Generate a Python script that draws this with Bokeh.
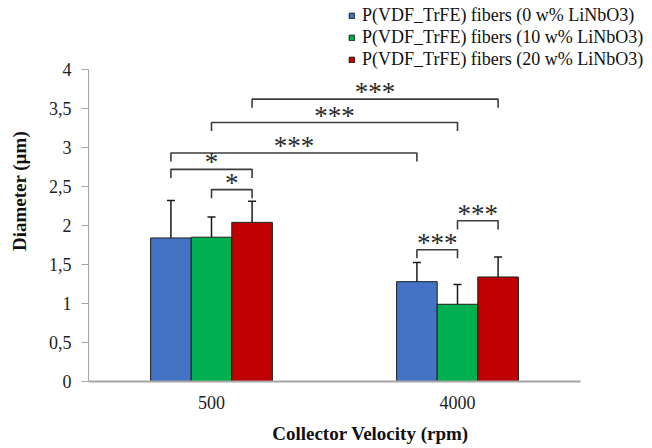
from bokeh.plotting import figure
from bokeh.models import (ColumnDataSource, Range1d, FixedTicker, Legend, LegendItem,
                          Whisker, TeeHead)
from bokeh.embed import file_html
from bokeh.resources import INLINE
from bokeh.core.properties import value

# ---------------- data ----------------
velocities = ["500", "4000"]
series_names = ["P(VDF_TrFE) fibers (0 w% LiNbO3)",
                "P(VDF_TrFE) fibers (10 w% LiNbO3)",
                "P(VDF_TrFE) fibers (20 w% LiNbO3)"]
diam_0 = [1.84, 1.28]
diam_10 = [1.85, 0.99]
diam_20 = [2.04, 1.34]
err_0 = [0.48, 0.245]
err_10 = [0.26, 0.255]
err_20 = [0.27, 0.255]

y_ticks = [0, 0.5, 1, 1.5, 2, 2.5, 3, 3.5, 4]
y_tick_labels = ["0", "0,5", "1", "1,5", "2", "2,5", "3", "3,5", "4"]

# significance brackets (group index / series index of each end)
br_left_group = [0, 0, 0, 0, 0, 1, 1]
br_left_series = [2, 1, 0, 0, 1, 0, 1]
br_right_group = [1, 1, 1, 0, 0, 1, 1]
br_right_series = [2, 1, 0, 2, 2, 1, 2]
br_level = [3.62, 3.32, 2.93, 2.72, 2.46, 1.69, 2.06]
br_label = ["***", "***", "***", "*", "*", "***", "***"]

# ---------------- style ----------------
colors = ["#4472C4", "#00B050", "#C00000"]
SERIF = "Liberation Serif"
BAR_W = 0.165
offsets = [-BAR_W, 0.0, BAR_W]
DROP = 0.11

W, H = 652, 448
LEFT, BOTTOM = 88, 67
PX_PER_UNIT = 78.0
PX_PER_CAT = 246.0
frame_h = H - BOTTOM
frame_w = W - LEFT
y_end = frame_h / PX_PER_UNIT
x_end = frame_w / PX_PER_CAT

p = figure(width=W, height=H, output_backend="svg", toolbar_location=None,
           x_range=Range1d(0, x_end), y_range=Range1d(0, y_end),
           min_border_left=LEFT, min_border_right=0, min_border_top=0,
           min_border_bottom=BOTTOM)
p.outline_line_color = None
p.xgrid.visible = False
p.ygrid.visible = False
p.background_fill_color = "white"

values = [diam_0, diam_10, diam_20]
errors = [err_0, err_10, err_20]
renderers = []
for si in range(3):
    xs = [gi + 0.5 + offsets[si] for gi in range(len(velocities))]
    src = ColumnDataSource(dict(
        x=xs, top=values[si],
        upper=[v + e for v, e in zip(values[si], errors[si])],
        lower=[v - e for v, e in zip(values[si], errors[si])]))
    r = p.vbar(x="x", top="top", width=BAR_W, bottom=0, source=src,
               fill_color=colors[si], line_color="#1e1e1e", line_width=1)
    renderers.append(r)
    wk = Whisker(base="x", upper="upper", lower="lower", source=src,
                 dimension="height", line_color="#1a1a1a", line_width=1.5,
                 upper_head=TeeHead(size=8, line_color="#1a1a1a", line_width=1.5),
                 lower_head=TeeHead(size=8, line_color="#1a1a1a", line_width=1.5))
    p.add_layout(wk)

# brackets
bx, by, tx, ty = [], [], [], []
for lg, ls, rg, rs, lv in zip(br_left_group, br_left_series, br_right_group,
                              br_right_series, br_level):
    x0 = lg + 0.5 + offsets[ls]
    x1 = rg + 0.5 + offsets[rs]
    bx.append([x0, x0, x1, x1])
    by.append([lv - DROP, lv, lv, lv - DROP])
    tx.append((x0 + x1) / 2)
    ty.append(lv)
p.multi_line(xs=bx, ys=by, line_color="#3c3c3c", line_width=1.6)
p.text(x=tx, y=ty, text=br_label, text_font=value(SERIF), text_font_size="27px",
       text_color="#2a2a2a", text_align="center", text_baseline="alphabetic",
       y_offset=-7)

# axes
xa = p.xaxis[0]
xa.ticker = FixedTicker(ticks=[gi + 0.5 for gi in range(len(velocities))])
xa.major_label_overrides = {gi + 0.5: v for gi, v in enumerate(velocities)}
xa.bounds = (0, len(velocities))
xa.axis_label = "Collector Velocity (rpm)"
xa.axis_label_text_font = SERIF
xa.axis_label_text_font_style = "bold"
xa.axis_label_text_font_size = "19px"
xa.axis_label_text_color = "#111111"
xa.axis_label_standoff = 11
xa.major_label_text_font = SERIF
xa.major_label_text_font_size = "18px"
xa.major_label_text_color = "#222222"
xa.major_label_standoff = 8
xa.major_tick_line_color = None
xa.minor_tick_line_color = None
xa.axis_line_color = "#a6a6a6"
xa.axis_line_width = 2

ya = p.yaxis[0]
ya.ticker = FixedTicker(ticks=y_ticks)
ya.major_label_overrides = {t: l for t, l in zip(y_ticks, y_tick_labels)}
ya.bounds = (0, 4)
ya.axis_label = "Diameter (µm)"
ya.axis_label_text_font = SERIF
ya.axis_label_text_font_style = "bold"
ya.axis_label_text_font_size = "19px"
ya.axis_label_text_color = "#111111"
ya.axis_label_standoff = 16
ya.major_label_text_font = SERIF
ya.major_label_text_font_size = "18px"
ya.major_label_text_color = "#222222"
ya.major_label_standoff = 10
ya.major_tick_out = 7
ya.major_tick_in = 0
ya.major_tick_line_color = "#a6a6a6"
ya.minor_tick_line_color = None
ya.axis_line_color = "#a6a6a6"

legend = Legend(items=[LegendItem(label=n, renderers=[r]) for n, r in zip(series_names, renderers)],
                location=(260, frame_h - 70), orientation="vertical",
                glyph_width=7, glyph_height=7, label_standoff=7,
                label_text_font=SERIF, label_text_font_size="18px",
                label_text_color="#111111", label_height=20, spacing=1,
                padding=0, margin=0, border_line_color=None,
                background_fill_alpha=0)
p.add_layout(legend, "center")

open("out.html", "w").write(file_html(p, INLINE))
